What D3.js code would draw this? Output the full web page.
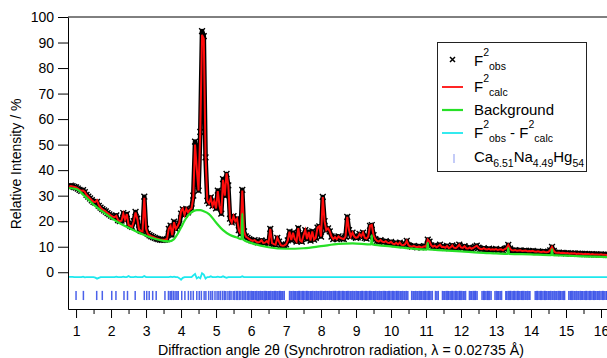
<!DOCTYPE html>
<html><head><meta charset="utf-8">
<script src="https://cdn.jsdelivr.net/npm/d3@7"></script>
<style>body{margin:0;background:#fff;} svg{display:block;font-family:"Liberation Sans",Arial,Helvetica,sans-serif;}</style>
</head><body><svg id="c" width="607" height="358"></svg>
<script>
// ---- data ----
const thetaStart = 0.80, thetaStep = 0.05;   // 2θ sampling grid
const obs = [
 33.6,33.9,33.7,33.4,
 33.2,32.8,32.3,31.9,32.2,31.4,30.3,29.6,28.9,28.2,27.6,27.3,27.6,26.0,25.3,24.7,24.2,23.8,23.2,22.7,
 22.2,21.8,21.6,22.3,20.4,20.0,20.2,23.2,20.6,22.8,19.0,18.2,17.8,20.0,23.6,21.0,16.8,16.2,16.0,29.6,
 17.0,15.0,14.5,14.1,13.8,13.5,13.2,13.0,12.8,12.7,12.7,12.8,13.0,17.0,18.3,14.5,19.8,17.0,18.0,19.0,
 23.0,24.6,22.5,24.8,23.5,24.5,25.0,30.0,51.2,40.0,32.0,55.0,94.5,92.5,45.0,28.0,27.0,29.3,26.0,28.0,
 25.0,32.0,26.0,23.0,36.5,30.0,38.5,34.0,21.0,19.5,22.0,20.0,21.0,16.5,15.0,32.3,16.0,14.0,13.5,13.0,
 12.6,12.3,12.6,12.0,11.7,11.9,12.5,11.5,11.6,12.2,11.4,17.0,11.4,11.0,10.8,13.5,12.0,10.6,10.4,10.5,
 10.9,12.5,15.9,12.6,15.5,13.0,12.0,17.3,12.5,12.0,14.5,16.5,13.0,15.8,12.4,16.0,12.8,13.5,17.5,18.0,
 14.0,29.5,20.0,16.5,17.2,16.0,14.0,13.0,13.8,13.0,14.0,13.5,13.2,13.0,14.0,21.7,16.5,14.0,15.5,14.0,
 13.5,13.7,15.0,14.0,15.5,13.5,13.2,14.0,18.2,18.5,14.5,13.0,12.3,12.0,12.6,12.0,11.8,12.2,11.6,11.5,
 11.9,11.2,11.0,11.5,10.9,11.6,10.7,10.6,11.0,12.3,10.6,10.2,10.0,10.3,10.0,9.8,10.1,9.8,9.9,10.2,
 10.0,12.8,12.0,10.5,10.0,10.4,9.8,10.2,10.8,9.9,10.0,9.6,10.3,9.5,9.7,10.5,9.6,9.4,10.0,10.8,
 9.7,9.5,10.2,9.4,9.3,9.7,9.2,9.5,10.0,10.4,9.6,9.2,9.0,9.4,9.0,8.9,9.2,8.8,9.0,8.8,
 9.1,8.7,8.9,9.0,8.6,9.1,9.4,10.7,9.2,8.6,8.5,8.7,8.4,8.5,8.6,8.3,8.4,8.5,8.2,8.3,
 8.2,8.4,8.1,8.0,8.2,8.0,7.9,8.1,7.9,7.8,8.0,8.6,9.9,8.4,7.7,7.6,7.7,7.5,7.6,7.5,
 7.4,7.5,7.3,7.4,7.3,7.4,7.2,7.3,7.2,7.2,7.1,7.2,7.1,7.1,7.0,7.1,7.0,7.0,7.0,6.9,
 7.0,6.9,6.9,6.8,6.8];
const calc = [
 33.5,33.8,33.6,33.4,
 33.2,32.8,32.3,31.9,32.0,31.5,30.3,29.6,28.9,28.2,27.6,27.5,28.2,26.3,25.3,24.7,24.2,23.8,23.2,22.7,
 22.2,21.8,21.6,22.1,20.4,20.0,20.2,23.0,20.6,22.8,18.6,18.2,17.8,20.0,23.4,21.0,16.8,16.2,16.0,29.2,
 17.0,15.0,14.5,14.1,13.8,13.5,13.2,13.0,12.8,12.7,12.7,12.8,13.0,17.0,18.1,14.5,19.6,17.0,18.0,19.4,
 24.0,24.9,22.5,24.8,23.5,24.5,25.0,29.3,50.0,40.5,32.0,55.5,93.0,91.5,45.6,28.0,27.0,29.0,26.0,28.0,
 25.0,31.8,26.0,23.0,36.2,30.0,38.8,34.0,21.0,19.5,22.0,20.0,21.0,16.5,15.0,32.0,16.0,14.0,13.5,13.0,
 12.6,12.3,12.6,12.0,11.7,11.9,12.5,11.5,11.6,12.2,11.4,17.0,11.4,11.0,10.8,13.5,12.0,10.6,10.4,10.5,
 10.9,12.5,15.9,12.6,15.5,13.0,12.0,17.3,12.5,12.0,14.5,16.5,13.0,15.8,12.4,16.0,12.8,13.5,17.5,18.0,
 14.0,29.5,20.0,16.5,17.2,16.0,14.0,13.0,13.8,13.0,14.0,13.5,13.2,13.0,14.0,21.7,16.5,14.0,15.5,14.0,
 13.5,13.7,15.0,14.0,15.5,13.5,13.2,14.0,18.2,18.5,14.5,13.0,12.3,12.0,12.6,12.0,11.8,12.2,11.6,11.5,
 11.9,11.2,11.0,11.5,10.9,11.6,10.7,10.6,11.0,12.3,10.6,10.2,10.0,10.3,10.0,9.8,10.1,9.8,9.9,10.2,
 10.0,12.8,12.0,10.5,10.0,10.4,9.8,10.2,10.8,9.9,10.0,9.6,10.3,9.5,9.7,10.5,9.6,9.4,10.0,10.8,
 9.7,9.5,10.2,9.4,9.3,9.7,9.2,9.5,10.0,10.4,9.6,9.2,9.0,9.4,9.0,8.9,9.2,8.8,9.0,8.8,
 9.1,8.7,8.9,9.0,8.6,9.1,9.4,10.7,9.2,8.6,8.5,8.7,8.4,8.5,8.6,8.3,8.4,8.5,8.2,8.3,
 8.2,8.4,8.1,8.0,8.2,8.0,7.9,8.1,7.9,7.8,8.0,8.6,9.9,8.4,7.7,7.6,7.7,7.5,7.6,7.5,
 7.4,7.5,7.3,7.4,7.3,7.4,7.2,7.3,7.2,7.2,7.1,7.2,7.1,7.1,7.0,7.1,7.0,7.0,7.0,6.9,
 7.0,6.9,6.9,6.8,6.8];
const bgTheta = [0.8,1.0,1.25,1.5,1.75,2.0,2.25,2.5,2.75,3.0,3.25,3.5,3.65,3.8,3.9,4.0,4.1,4.2,4.3,4.45,4.55,4.65,4.8,5.0,5.2,5.4,5.6,5.73,5.75,5.77,6.0,6.5,7.0,7.5,8.0,8.5,8.9,9.43,9.45,9.47,10.0,10.5,11.03,11.05,11.07,11.5,12.0,12.5,13.0,13.33,13.35,13.37,14.0,14.58,14.6,14.62,15.0,15.5,16.0,16.2];
const bgValue = [33.0,32.6,29.8,26.5,23.8,21.3,19.2,17.4,15.8,14.3,13.1,12.3,12.1,13.0,15.0,17.5,20.2,22.2,23.5,24.3,24.3,23.9,22.8,19.5,16.5,14.6,13.6,13.0,23.0,12.9,11.5,9.8,9.2,9.4,10.2,11.1,11.3,10.9,14.5,10.9,10.1,9.4,8.9,11.5,8.9,8.6,8.2,7.7,7.4,7.2,9.5,7.2,7.0,6.7,9.0,6.7,6.5,6.2,6.0,5.9];
const reflections = [
 1.00,1.21,1.59,1.75,2.02,2.14,2.37,2.47,2.69,2.95,3.02,3.09,3.19,3.29,3.54,3.64,3.69,3.73,3.78,3.83,3.88,3.92,4.02,4.11,4.21,4.28,4.35,4.45,
 4.52,4.58,4.66,4.71,4.79,4.85,4.90,4.97,5.03,5.08,5.13,5.19,5.24,5.28,5.34,5.39,5.43,5.49,5.53,5.58,5.62,5.67,5.71,5.76,5.80,5.84,5.89,5.93,5.97,
 6.01,6.05,6.08,6.12,6.16,6.20,6.23,6.27,6.31,6.34,6.38,6.42,6.45,6.49,6.52,6.56,6.60,6.63,6.67,6.70,6.74,6.77,6.81,6.84,6.88,6.91,6.95,
 7.10,7.14,7.17,7.21,7.25,7.28,7.32,7.36,7.39,7.43,7.47,7.50,7.54,7.58,7.61,7.65,7.69,7.72,7.76,7.80,7.83,7.87,7.91,7.94,7.98,
 8.02,8.06,8.09,8.13,8.17,8.20,8.24,8.28,8.31,8.35,8.39,8.42,8.46,8.50,8.53,8.57,8.61,8.64,8.68,8.72,8.75,8.79,8.83,8.86,8.90,8.94,8.97,
 9.01,9.05,9.08,9.12,9.16,9.19,9.23,9.27,9.30,9.34,9.38,9.41,9.45,9.49,9.52,9.56,9.60,9.63,9.67,9.71,9.74,9.78,9.82,9.85,9.89,9.93,9.96,
 10.00,10.04,10.07,10.11,10.15,10.18,10.22,10.26,10.29,10.33,10.37,10.40,10.44,10.48,10.59,10.63,10.66,10.70,10.74,10.77,10.81,10.85,10.88,10.92,10.96,10.99,
 11.03,11.07,11.10,11.14,11.18,11.27,11.31,11.35,11.47,11.51,11.54,11.58,11.62,11.65,11.69,11.73,11.76,11.80,11.84,11.87,11.91,11.95,11.98,
 12.02,12.06,12.09,12.13,12.24,12.28,12.31,12.35,12.39,12.42,12.46,12.60,12.64,12.67,12.71,12.75,12.78,12.82,12.86,12.97,
 13.01,13.05,13.08,13.12,13.16,13.28,13.31,13.35,13.39,13.42,13.46,13.50,13.53,13.57,13.61,13.64,13.68,13.72,13.75,13.79,13.83,13.86,13.90,13.94,13.97,
 14.12,14.16,14.19,14.23,14.27,14.30,14.34,14.38,14.41,14.45,14.49,14.52,14.56,14.60,14.63,14.67,14.71,14.74,14.78,14.82,14.85,14.89,14.93,14.96,
 15.08,15.12,15.15,15.19,15.23,15.26,15.30,15.34,15.37,15.41,15.45,15.48,15.52,15.56,15.59,15.63,15.67,15.70,15.74,15.78,15.81,15.85,15.89,15.92,15.96,
 16.00,16.04,16.07,16.11,16.15,16.18,16.22];
const xTicks = [1,2,3,4,5,6,7,8,9,10,11,12,13,14,15,16];
const xMinorTicks = [1.5,2.5,3.5,4.5,5.5,6.5,7.5,8.5,9.5,10.5,11.5,12.5,13.5,14.5,15.5];
const yTicks = [0,10,20,30,40,50,60,70,80,90,100];
const diffOffset = -1.9;

// ---- layout ----
const L = 68, R = 608, T = 17, B = 309;
const svg = d3.select("#c");
const x = d3.scaleLinear().domain([0.77, 16.2]).range([L, R]);
const y = d3.scaleLinear().domain([-14.4, 100]).range([B, T]);
const tt = obs.map((_, i) => thetaStart + i * thetaStep);

svg.append("defs").append("clipPath").attr("id","clip")
  .append("rect").attr("x", L).attr("y", T - 3).attr("width", R - L).attr("height", B - T + 3);
const g = svg.append("g").attr("clip-path","url(#clip)");

// reflection markers
g.append("g").selectAll("line").data(reflections).join("line")
  .attr("x1", d => x(d)).attr("x2", d => x(d))
  .attr("y1", y(-7.3)).attr("y2", y(-10.9))
  .attr("stroke", "#2b45e6").attr("stroke-opacity", 0.85).attr("stroke-width", 1.5);

// difference curve
const diffLine = d3.line().x((d, i) => x(tt[i])).y((d, i) => y(obs[i] - calc[i] + diffOffset));
g.append("path").datum(obs).attr("d", diffLine).attr("fill","none").attr("stroke","#1ee8ee").attr("stroke-width",1.8);

// observed: band + × markers
const obsLine = d3.line().x((d, i) => x(tt[i])).y(d => y(d));
g.append("path").datum(obs).attr("d", obsLine).attr("fill","none").attr("stroke","#000").attr("stroke-width",4.6).attr("stroke-linejoin","round");
const s = 2.9;
g.append("path").attr("d", obs.map((d, i) => {
  const px = x(tt[i]), py = y(d);
  return `M${px-s},${py-s}L${px+s},${py+s}M${px+s},${py-s}L${px-s},${py+s}`;
}).join("")).attr("stroke","#000").attr("stroke-width",1.4).attr("fill","none");

// calculated
g.append("path").datum(calc).attr("d", obsLine).attr("fill","none").attr("stroke","#ff0d0d").attr("stroke-width",2);

// background
const bgLine = d3.line().x(d => x(d[0])).y(d => y(d[1])).curve(d3.curveMonotoneX);
g.append("path").datum(bgTheta.map((t, i) => [t, bgValue[i]])).attr("d", bgLine)
  .attr("fill","none").attr("stroke","#27e027").attr("stroke-width",2.2);

// axes
const fontSize = 14;
const ax = svg.append("g").attr("transform", `translate(${L},0)`)
  .call(d3.axisLeft(y).tickValues(yTicks).tickSize(10).tickSizeOuter(0).tickPadding(4));
ax.selectAll("text").attr("font-size", fontSize).attr("font-family", "Liberation Sans, Arial, sans-serif").attr("fill","#000");
const bx = svg.append("g").attr("transform", `translate(0,${B})`)
  .call(d3.axisBottom(x).tickValues(xTicks).tickSize(9).tickSizeOuter(0).tickPadding(8));
bx.selectAll("text").attr("font-size", fontSize).attr("font-family", "Liberation Sans, Arial, sans-serif").attr("fill","#000");
svg.append("g").attr("transform", `translate(0,${B})`)
  .call(d3.axisBottom(x).tickValues(xMinorTicks).tickSize(5).tickSizeOuter(0).tickFormat(""))
  .select(".domain").remove();
svg.selectAll(".domain, .tick line").attr("stroke","#000");
svg.append("line").attr("x1", L).attr("x2", R).attr("y1", T).attr("y2", T).attr("stroke","#000");

// axis titles
svg.append("text").attr("transform","translate(21,164) rotate(-90)").attr("text-anchor","middle")
  .attr("font-size", 14).text("Relative Intensity / %");
svg.append("text").attr("x", 341).attr("y", 355).attr("text-anchor","middle")
  .attr("font-size", 14.2).text("Diffraction angle 2θ (Synchrotron radiation, λ = 0.02735 Å)");

// legend
const lg = svg.append("g");
lg.append("rect").attr("x", 437.5).attr("y", 42.5).attr("width", 149).attr("height", 129)
  .attr("fill","#fff").attr("stroke","#222").attr("stroke-width",1);
const lx = 474, big = 15, small = 10.5;
lg.append("path").attr("d", `M450,57L455,62M455,57L450,62`).attr("stroke","#000").attr("stroke-width",1.5);
function fText(yb, sub) {
  const t = lg.append("text").attr("x", lx).attr("y", yb).attr("font-size", big);
  t.append("tspan").text("F");
  t.append("tspan").attr("font-size", small).attr("dy", -10).text("2");
  t.append("tspan").attr("font-size", small).attr("dy", 14).text(sub);
  return t;
}
fText(66, "obs");
lg.append("line").attr("x1",442).attr("x2",463).attr("y1",87).attr("y2",87).attr("stroke","#ff0d0d").attr("stroke-width",1.8);
fText(92, "calc");
lg.append("line").attr("x1",442).attr("x2",463).attr("y1",110).attr("y2",110).attr("stroke","#27e027").attr("stroke-width",2.2);
lg.append("text").attr("x", lx).attr("y", 114.5).attr("font-size", big).text("Background");
lg.append("line").attr("x1",442).attr("x2",463).attr("y1",133).attr("y2",133).attr("stroke","#1ee8ee").attr("stroke-width",1.8);
{
  const t = fText(138, "obs");
  t.append("tspan").attr("dy", -4).attr("font-size", big).text(" - F");
  t.append("tspan").attr("font-size", small).attr("dy", -10).text("2");
  t.append("tspan").attr("font-size", small).attr("dy", 14).text("calc");
}
lg.append("line").attr("x1",454).attr("x2",454).attr("y1",154).attr("y2",163).attr("stroke","#2b45e6").attr("stroke-opacity",0.35).attr("stroke-width",1.6);
{
  const t = lg.append("text").attr("x", lx).attr("y", 162).attr("font-size", big);
  const parts = [["Ca",0],["6.51",1],["Na",0],["4.49",1],["Hg",0],["54",1]];
  let cur = 0;
  parts.forEach(([txt, sub]) => {
    const target = sub ? 5 : 0;
    t.append("tspan").attr("font-size", sub ? small : big).attr("dy", target - cur).text(txt);
    cur = target;
  });
}
</script></body></html>
